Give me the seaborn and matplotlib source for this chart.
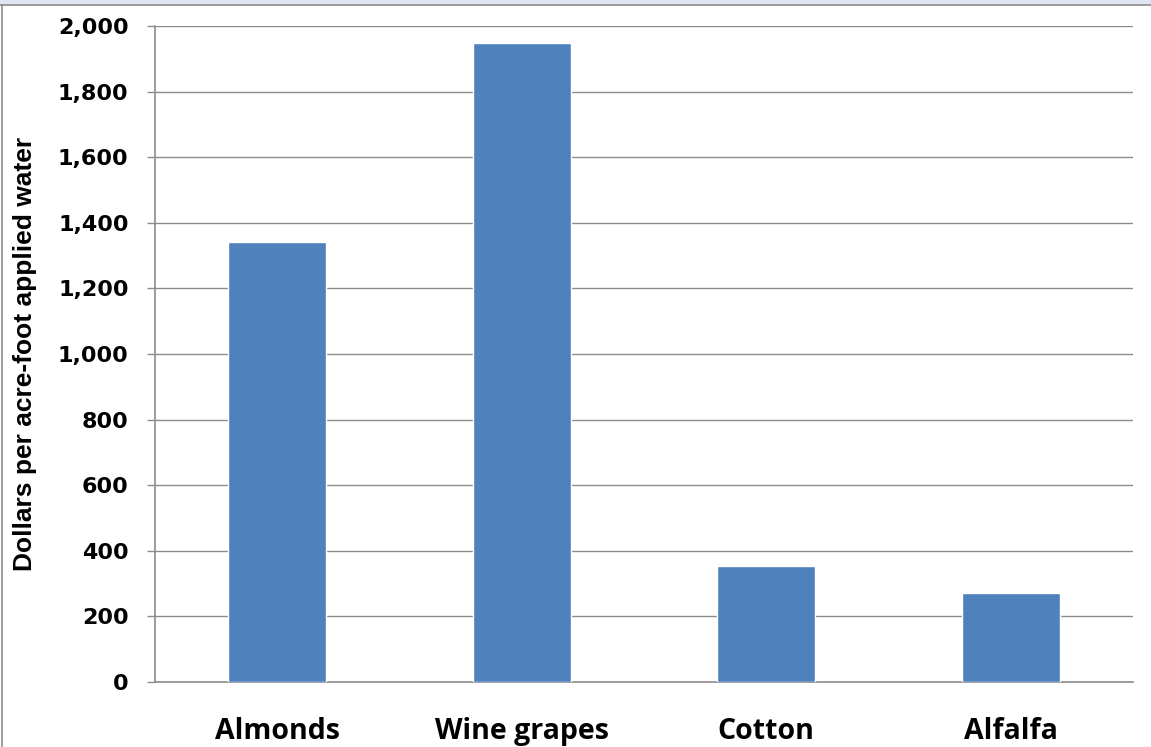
import matplotlib
matplotlib.use("Agg")
import matplotlib.pyplot as plt
import seaborn as sns
import pandas as pd
from matplotlib.patches import Rectangle
from matplotlib.ticker import FuncFormatter

# Values
crops = ["Almonds", "Wine grapes", "Cotton", "Alfalfa"]
dollars = [1340, 1948, 355, 272]
y_ticks = [0, 200, 400, 600, 800, 1000, 1200, 1400, 1600, 1800, 2000]

data = pd.DataFrame({"Crop": crops, "Dollars": dollars})

sns.set_style("white")
plt.rcParams["font.family"] = ["Liberation Sans", "DejaVu Sans"]
plt.rcParams["text.color"] = "black"
plt.rcParams["xtick.color"] = "black"
plt.rcParams["ytick.color"] = "black"
plt.rcParams["axes.labelcolor"] = "black"

fig = plt.figure(figsize=(11.51, 7.47), dpi=100)
fig.patch.set_facecolor("white")

# light strip at the top and thin frame, as in the cut-off source image
fig.add_artist(Rectangle((0, 1 - 5 / 747), 1, 5 / 747, transform=fig.transFigure,
                         facecolor="#dde6f2", edgecolor="none"))
fig.add_artist(plt.Line2D([0, 1], [1 - 5 / 747] * 2, transform=fig.transFigure,
                          color="#8c8c8c", lw=1.2))
fig.add_artist(plt.Line2D([1.5 / 1151] * 2, [0, 1 - 5 / 747], transform=fig.transFigure,
                          color="#8c8c8c", lw=1.2))

ax = fig.add_axes([155 / 1151, (747 - 682) / 747, (1133 - 155) / 1151, (682 - 26) / 747])

sns.barplot(data=data, x="Crop", y="Dollars", color="#4F81BD", saturation=1,
            width=0.4, ax=ax, zorder=3)

ax.set_ylim(0, 2000)
ax.set_yticks(y_ticks)
ax.yaxis.set_major_formatter(FuncFormatter(lambda v, p: f"{int(v):,}"))
ax.set_xlim(-0.5, len(crops) - 0.5)
ax.grid(axis="y", color="#8c8c8c", lw=1, zorder=0)
ax.set_axisbelow(True)

for side in ["top", "right"]:
    ax.spines[side].set_visible(False)
for side in ["left", "bottom"]:
    ax.spines[side].set_color("#8c8c8c")
    ax.spines[side].set_linewidth(1.2)

# category separator ticks on the x axis
ax.set_xticks([i - 0.5 for i in range(len(crops) + 1)], minor=True)
ax.tick_params(axis="x", which="minor", length=8, color="#8c8c8c", width=1)
ax.tick_params(axis="x", which="major", length=0, pad=25)
ax.tick_params(axis="y", length=6, color="#8c8c8c", width=1, left=True, pad=13)
for lab in ax.get_xticklabels():
    lab.set_fontweight("bold")
    lab.set_fontfamily(["Open Sans", "DejaVu Sans"])
    lab.set_fontsize(20.5)
for lab in ax.get_yticklabels():
    lab.set_fontweight("bold")
    lab.set_fontfamily(["DejaVu Sans"])
    lab.set_fontsize(16)

ax.set_xlabel("")
ax.set_ylabel("Dollars per acre-foot applied water", fontsize=19,
              fontweight="bold", fontstretch="condensed", labelpad=15,
              family=["Liberation Sans Narrow", "Liberation Sans", "DejaVu Sans"])

fig.savefig("out.png", dpi=100)
